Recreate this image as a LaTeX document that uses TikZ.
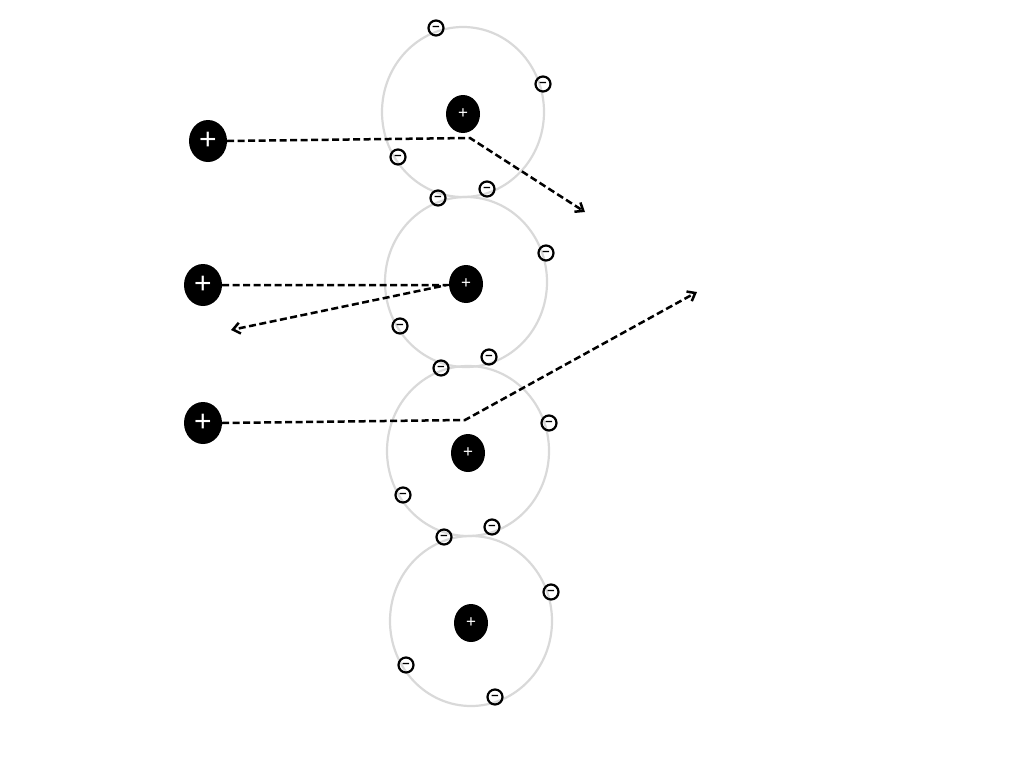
\documentclass[tikz,border=0pt]{standalone}
\usepackage{fontspec}
\setmainfont{Liberation Sans}
\begin{document}
\begin{tikzpicture}[x=1pt,y=-1pt,
 orbit/.style={draw=black!15,line width=2.2pt},
 nuc/.style={fill=black,ellipse,minimum width=34pt,minimum height=38pt,inner sep=0,text=white,font=\fontsize{17}{17}\selectfont},
 big/.style={fill=black,ellipse,minimum width=38pt,minimum height=42pt,inner sep=0,text=white,font=\fontsize{30}{30}\selectfont},
 el/.style={draw=black,line width=2.2pt,circle,minimum size=15pt,inner sep=0,font=\fontsize{13}{13}\selectfont\bfseries},
 path/.style={line width=2.5pt,dash pattern=on 7pt off 3.5pt},
 arr/.style={path,-{Straight Barb[length=7pt,width=11pt]}}]
\usetikzlibrary{shapes.geometric,arrows.meta}
\useasboundingbox (0,0) rectangle (1024,768);
\foreach \i/\x/\y in {1/463/112,2/466/282,3/468/451,4/471/621}{
 \draw[orbit] (\x,\y) ellipse [x radius=81, y radius=85];
 \node[nuc] (n\i) at (\x,\y+2) {+};}
\foreach \n/\x/\y in {a/436/28,b/543/84,c/398/157,d/487/189,e/438/198,f/546/253,g/400/326,h/489/357,i/441/368,j/549/423,k/403/495,l/492/527,m/444/537,o/551/592,p/406/665,q/495/697}
 \node[el] (e\n) at (\x,\y) {\raisebox{-1.5pt}{–}};
\node[big] (p1) at (208,141) {+};
\node[big] (p2) at (203,285) {+};
\node[big] (p3) at (203,423) {+};
\coordinate (k1) at (470,138); \coordinate (t1) at (585,212);
\coordinate (k2) at (447,285); \coordinate (t2) at (231,330);
\coordinate (k3) at (465,420); \coordinate (t3) at (697,292);
\draw[arr] (p1.east) -- (k1) -- (t1);
\draw[arr] (p2.east) -- (k2) -- (t2);
\draw[arr] (p3.east) -- (k3) -- (t3);
\end{tikzpicture}
\end{document}
